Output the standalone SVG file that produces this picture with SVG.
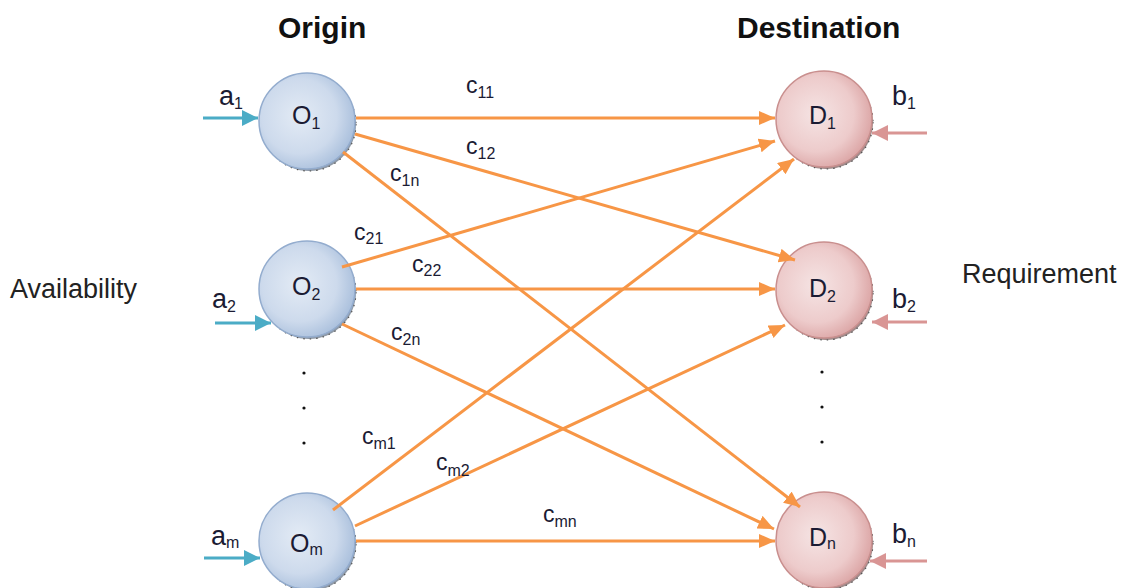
<svg xmlns="http://www.w3.org/2000/svg" width="1126" height="588" viewBox="0 0 1126 588">
<defs>
  <radialGradient id="gO" cx="42%" cy="45%" r="60%">
    <stop offset="0%" stop-color="#e3ebf5"/>
    <stop offset="65%" stop-color="#cddaec"/>
    <stop offset="100%" stop-color="#a9bfdc"/>
  </radialGradient>
  <radialGradient id="gD" cx="42%" cy="45%" r="60%">
    <stop offset="0%" stop-color="#f5e4e4"/>
    <stop offset="65%" stop-color="#edcbcb"/>
    <stop offset="100%" stop-color="#dba4a4"/>
  </radialGradient>
  <marker id="mO" markerUnits="userSpaceOnUse" markerWidth="17" markerHeight="15" refX="16" refY="7" orient="auto">
    <path d="M0,0 L16,7 L0,14 Z" fill="#f79646"/>
  </marker>
  <marker id="mT" markerUnits="userSpaceOnUse" markerWidth="17" markerHeight="16" refX="16" refY="8" orient="auto">
    <path d="M0,0 L16,8 L0,16 Z" fill="#4bacc6"/>
  </marker>
  <marker id="mP" markerUnits="userSpaceOnUse" markerWidth="17" markerHeight="16" refX="16" refY="8" orient="auto">
    <path d="M0,0 L16,8 L0,16 Z" fill="#d99594"/>
  </marker>
</defs>
<style>
  .title { font-family: "Liberation Sans", Arial, sans-serif; font-weight: bold; font-size: 30px; fill: #111; }
  .side { font-family: "Liberation Sans", Arial, sans-serif; font-size: 27px; fill: #222; }
  .lbl { font-family: "Liberation Sans", Arial, sans-serif; font-size: 25px; fill: #1b1b33; }
  .io { font-family: "Liberation Sans", Arial, sans-serif; font-size: 27px; fill: #1b1b33; }
  .cl { font-family: "Liberation Sans", Arial, sans-serif; font-size: 23px; fill: #1b1b33; }
  .sub { font-size: 16px; }
  .shO { fill: #8f9aa8; stroke: #555; stroke-width: 1.2; stroke-dasharray: 1.5 5; }
  .shD { fill: #a08a8a; stroke: #555; stroke-width: 1.2; stroke-dasharray: 1.5 5; }
  .nO { fill: url(#gO); stroke: #93acce; stroke-width: 1.5; }
  .nD { fill: url(#gD); stroke: #c98f8e; stroke-width: 1.5; }
  .con { stroke: #f79646; stroke-width: 3; fill: none; marker-end: url(#mO); }
  .ain { stroke: #4bacc6; stroke-width: 3; marker-end: url(#mT); }
  .bin { stroke: #d99594; stroke-width: 3; marker-end: url(#mP); }
  .dot { fill: #111; }
</style>
<rect width="1126" height="588" fill="#fff"/>

<text class="title" x="278" y="38">Origin</text>
<text class="title" x="737" y="38">Destination</text>
<text class="side" x="10" y="298">Availability</text>
<text class="side" x="962" y="283">Requirement</text>

<g id="O1">
  <circle class="shO" cx="309" cy="124" r="47"/>
  <circle class="nO" cx="307" cy="121" r="48"/>
  <text class="lbl" x="292" y="124">O<tspan class="sub" dy="5">1</tspan></text>
</g>
<g id="O2">
  <circle class="shO" cx="309" cy="292" r="47"/>
  <circle class="nO" cx="307" cy="289" r="48"/>
  <text class="lbl" x="292" y="295">O<tspan class="sub" dy="5">2</tspan></text>
</g>
<g id="Om">
  <circle class="shO" cx="309" cy="544" r="47"/>
  <circle class="nO" cx="307" cy="541" r="48"/>
  <text class="lbl" x="290" y="552">O<tspan class="sub" dy="3">m</tspan></text>
</g>
<g id="D1">
  <circle class="shD" cx="826" cy="122" r="47"/>
  <circle class="nD" cx="824" cy="119" r="48"/>
  <text class="lbl" x="809" y="124">D<tspan class="sub" dy="5">1</tspan></text>
</g>
<g id="D2">
  <circle class="shD" cx="826" cy="293" r="47"/>
  <circle class="nD" cx="824" cy="290" r="48"/>
  <text class="lbl" x="809" y="297">D<tspan class="sub" dy="5">2</tspan></text>
</g>
<g id="Dn">
  <circle class="shD" cx="826" cy="543" r="47"/>
  <circle class="nD" cx="824" cy="540" r="48"/>
  <text class="lbl" x="809" y="546">D<tspan class="sub" dy="3">n</tspan></text>
</g>

<g id="dots">
  <circle class="dot" cx="304" cy="373" r="1.6"/>
  <circle class="dot" cx="304" cy="408" r="1.6"/>
  <circle class="dot" cx="304" cy="443" r="1.6"/>
  <circle class="dot" cx="822" cy="372" r="1.6"/>
  <circle class="dot" cx="822" cy="407" r="1.6"/>
  <circle class="dot" cx="822" cy="442" r="1.6"/>
</g>

<g id="inputs">
  <line class="ain" x1="203" y1="118" x2="258" y2="118"/>
  <line class="ain" x1="215" y1="323" x2="271" y2="323"/>
  <line class="ain" x1="204" y1="558" x2="260" y2="558"/>
  <text class="io" x="219" y="105">a<tspan class="sub" dy="4">1</tspan></text>
  <text class="io" x="212" y="308">a<tspan class="sub" dy="4">2</tspan></text>
  <text class="io" x="211" y="545">a<tspan class="sub" dy="3">m</tspan></text>
  <line class="bin" x1="927" y1="133" x2="872" y2="133"/>
  <line class="bin" x1="927" y1="322" x2="872" y2="322"/>
  <line class="bin" x1="927" y1="561" x2="870" y2="561"/>
  <text class="io" x="892" y="105">b<tspan class="sub" dy="4">1</tspan></text>
  <text class="io" x="892" y="308">b<tspan class="sub" dy="4">2</tspan></text>
  <text class="io" x="892" y="543">b<tspan class="sub" dy="4">n</tspan></text>
</g>

<g id="connectors">
  <line class="con" x1="356" y1="118" x2="775" y2="118"/>
  <line class="con" x1="355" y1="134" x2="795" y2="260"/>
  <line class="con" x1="343" y1="152" x2="800" y2="507"/>
  <line class="con" x1="342" y1="267" x2="775" y2="141"/>
  <line class="con" x1="356" y1="289" x2="775" y2="289"/>
  <line class="con" x1="342" y1="324" x2="774" y2="529"/>
  <line class="con" x1="333" y1="510" x2="794" y2="159"/>
  <line class="con" x1="355" y1="526" x2="785" y2="325"/>
  <line class="con" x1="356" y1="541" x2="775" y2="541"/>
</g>

<g id="costs">
  <text class="cl" x="466" y="93">c<tspan class="sub" dy="5">11</tspan></text>
  <text class="cl" x="466" y="154">c<tspan class="sub" dy="5">12</tspan></text>
  <text class="cl" x="390" y="181">c<tspan class="sub" dy="5">1n</tspan></text>
  <text class="cl" x="354" y="240">c<tspan class="sub" dy="4">21</tspan></text>
  <text class="cl" x="412" y="272">c<tspan class="sub" dy="4">22</tspan></text>
  <text class="cl" x="391" y="340">c<tspan class="sub" dy="5">2n</tspan></text>
  <text class="cl" x="362" y="444">c<tspan class="sub" dy="5">m1</tspan></text>
  <text class="cl" x="436" y="470">c<tspan class="sub" dy="6">m2</tspan></text>
  <text class="cl" x="543" y="522">c<tspan class="sub" dy="5">mn</tspan></text>
</g>
</svg>
